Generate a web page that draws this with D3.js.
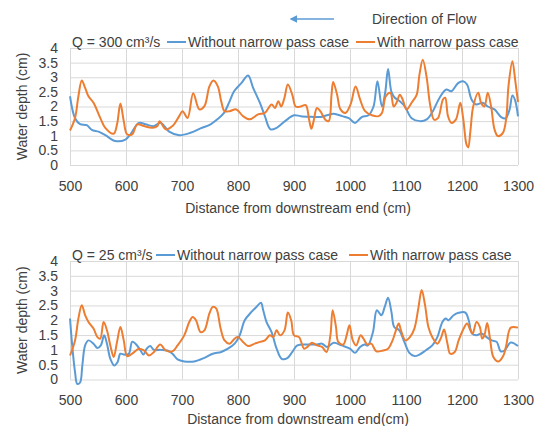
<!DOCTYPE html>
<html>
<head>
<meta charset="utf-8">
<script src="https://cdn.jsdelivr.net/npm/d3@7"></script>
<style>
  body { margin: 0; background: #fff; }
  svg text { font-family: "Liberation Sans", Arial, sans-serif; fill: #404040; }
</style>
</head>
<body>
<div id="chart"></div>
<script>
// x = distance from downstream end (cm), y = water depth (cm)
var yTicks = [0, 0.5, 1, 1.5, 2, 2.5, 3, 3.5, 4];
var xTicks = [500, 600, 700, 800, 900, 1000, 1100, 1200, 1300];
var seriesNames = ["Without narrow pass case", "With narrow pass case"];

// Q = 300 cm3/s
var topWithout = [
    [500, 2.35], [509, 1.6], [518, 1.4], [530, 1.36], [539, 1.2], [551, 1.14], [563, 1.02], [581, 0.82],
    [599, 0.87], [608, 1.05], [623, 1.44], [635, 1.39], [650, 1.33], [662, 1.44], [677, 1.14], [695, 1.02],
    [715, 1.1], [733, 1.25], [751, 1.39], [763, 1.56], [775, 1.78], [784, 2.13], [793, 2.52], [806, 2.8],
    [818, 3.06], [827, 2.64], [839, 2.13], [848, 1.67], [858, 1.22], [869, 1.27], [884, 1.5], [900, 1.7],
    [912, 1.67], [930, 1.65], [947, 1.64], [959, 1.7], [971, 1.75], [986, 1.67], [998, 1.6], [1009, 1.44],
    [1021, 1.64], [1033, 1.7], [1042, 2.0], [1049, 2.86], [1057, 2.0], [1063, 2.5], [1068, 3.28], [1074, 2.5],
    [1080, 2.3], [1089, 2.18], [1098, 2.0], [1110, 1.6], [1125, 1.5], [1137, 1.56], [1148, 1.84], [1160, 2.3],
    [1172, 2.58], [1181, 2.52], [1193, 2.8], [1202, 2.86], [1209, 2.75], [1217, 2.24], [1225, 2.07], [1237, 2.13],
    [1246, 2.0], [1258, 1.9], [1270, 1.64], [1278, 1.6], [1285, 1.9], [1290, 2.38], [1295, 2.2], [1300, 1.66]
];
var topWith = [
    [500, 1.18], [509, 1.61], [515, 2.35], [521, 2.89], [527, 2.64], [533, 2.35], [542, 2.13], [554, 1.61],
    [563, 1.27], [578, 1.07], [584, 1.39], [590, 2.1], [596, 1.5], [602, 1.05], [611, 1.05], [620, 1.39],
    [632, 1.33], [647, 1.27], [656, 1.33], [660, 1.5], [671, 1.22], [683, 1.33], [695, 1.67], [701, 1.84],
    [710, 1.61], [720, 2.45], [731, 1.9], [740, 2.01], [749, 2.69], [756, 2.89], [764, 2.69], [770, 2.18],
    [776, 1.84], [785, 1.84], [797, 1.9], [809, 1.67], [821, 1.56], [836, 1.73], [848, 1.78], [860, 2.07],
    [866, 1.95], [872, 2.18], [877, 2.0], [883, 2.3], [889, 2.75], [897, 2.4], [903, 2.0], [912, 2.0],
    [921, 2.05], [927, 1.55], [931, 1.24], [935, 1.5], [941, 1.95], [947, 1.84], [956, 1.55], [962, 1.5],
    [967, 2.4], [970, 2.84], [977, 2.4], [983, 1.9], [992, 1.78], [1001, 2.07], [1010, 2.68], [1018, 2.24],
    [1027, 1.84], [1039, 1.7], [1051, 1.67], [1057, 1.78], [1064, 2.35], [1072, 2.47], [1078, 2.0], [1083, 2.13],
    [1089, 2.4], [1094, 2.24], [1101, 1.9], [1110, 2.13], [1119, 2.4], [1124, 3.09], [1130, 3.6], [1137, 2.98],
    [1143, 2.07], [1150, 1.55], [1157, 1.6], [1166, 2.24], [1170, 2.3], [1175, 1.67], [1181, 1.44], [1189, 1.55],
    [1197, 2.13], [1202, 1.61], [1208, 0.7], [1211, 0.6], [1215, 1.16], [1220, 2.0], [1229, 2.47], [1234, 2.13],
    [1240, 2.0], [1246, 2.47], [1252, 2.0], [1258, 1.22], [1264, 0.99], [1273, 1.1], [1279, 1.6], [1283, 2.7],
    [1290, 3.55], [1295, 2.9], [1300, 2.15]
];

// Q = 25 cm3/s
var bottomWithout = [
    [500, 2.06], [505, 0.93], [509, 0.25], [513, -0.15], [518, -0.1], [522, 0.47], [527, 1.15], [533, 1.32],
    [542, 1.21], [549, 1.06], [555, 1.15], [561, 1.49], [566, 1.21], [572, 0.7], [579, 0.47], [585, 0.59],
    [590, 0.87], [597, 0.84], [605, 0.87], [611, 1.27], [617, 1.21], [626, 0.98], [631, 0.84], [637, 1.04],
    [643, 1.13], [650, 1.0], [662, 1.0], [674, 0.98], [683, 0.87], [692, 0.68], [704, 0.61], [722, 0.61],
    [740, 0.73], [755, 0.87], [770, 0.93], [782, 1.04], [794, 1.21], [803, 1.49], [812, 2.0], [824, 2.28],
    [833, 2.45], [841, 2.59], [845, 2.34], [851, 1.94], [860, 1.6], [869, 1.04], [878, 0.7], [888, 0.72],
    [897, 0.93], [906, 1.15], [924, 1.18], [941, 1.18], [950, 1.21], [959, 1.1], [971, 1.24], [985, 1.15],
    [1000, 1.04], [1009, 0.9], [1018, 1.1], [1026, 1.18], [1032, 1.15], [1041, 1.6], [1048, 2.34], [1056, 2.17],
    [1062, 2.45], [1068, 2.76], [1074, 2.28], [1079, 1.77], [1088, 1.66], [1097, 1.27], [1106, 0.9], [1115, 0.79],
    [1124, 0.84], [1135, 0.98], [1147, 1.15], [1156, 1.43], [1165, 1.94], [1171, 2.06], [1176, 2.0], [1185, 2.17],
    [1194, 2.25], [1206, 2.26], [1212, 2.0], [1218, 1.55], [1226, 1.49], [1235, 1.55], [1244, 1.43], [1253, 1.32],
    [1262, 1.27], [1269, 0.95], [1276, 0.98], [1287, 1.25], [1300, 1.13]
];
var bottomWith = [
    [500, 0.81], [509, 1.32], [515, 2.06], [521, 2.51], [527, 2.17], [533, 1.94], [542, 1.72], [549, 1.43],
    [554, 1.38], [560, 1.94], [566, 1.66], [572, 1.15], [578, 0.76], [584, 1.27], [590, 1.77], [596, 1.32],
    [602, 0.79], [611, 0.87], [623, 1.04], [632, 0.98], [641, 0.81], [650, 0.93], [661, 1.18], [671, 0.98],
    [683, 0.95], [692, 1.15], [704, 1.49], [713, 1.94], [719, 2.11], [725, 2.0], [733, 1.6], [740, 1.66],
    [749, 2.23], [755, 2.45], [761, 2.4], [769, 1.72], [776, 1.32], [785, 1.21], [794, 1.38], [800, 1.43],
    [809, 1.27], [818, 1.13], [830, 1.21], [839, 1.27], [848, 1.32], [857, 1.49], [863, 1.43], [869, 1.66],
    [875, 1.49], [883, 1.66], [889, 2.26], [895, 2.0], [900, 1.49], [909, 1.43], [918, 1.04], [924, 1.1],
    [932, 1.24], [941, 1.15], [950, 1.1], [958, 0.93], [965, 1.49], [969, 2.34], [975, 1.77], [979, 1.27],
    [988, 1.18], [994, 1.49], [999, 1.83], [1005, 1.32], [1011, 1.15], [1019, 1.49], [1024, 1.38], [1031, 1.18],
    [1038, 1.21], [1047, 0.95], [1059, 0.98], [1068, 1.04], [1076, 1.32], [1082, 1.66], [1087, 1.89], [1091, 1.66],
    [1099, 1.32], [1107, 1.43], [1115, 1.72], [1122, 2.4], [1128, 3.02], [1134, 2.51], [1140, 1.77], [1147, 1.43],
    [1156, 1.21], [1163, 1.43], [1168, 1.69], [1174, 1.21], [1179, 0.87], [1187, 0.93], [1194, 1.32], [1203, 1.72],
    [1209, 1.89], [1215, 1.66], [1219, 1.55], [1226, 1.94], [1232, 1.77], [1236, 1.38], [1240, 1.49], [1245, 1.91],
    [1250, 1.38], [1256, 0.76], [1265, 0.61], [1274, 0.81], [1279, 1.15], [1287, 1.75], [1300, 1.75]
];

var WIDTH = 537, HEIGHT = 426,
    BLUE = "#5B9BD5", ORANGE = "#ED7D31", GRID = "#D9D9D9";

var svg = d3.select("#chart").append("svg")
    .attr("width", WIDTH)
    .attr("height", HEIGHT);

svg.append("rect").attr("width", WIDTH).attr("height", HEIGHT).attr("fill", "#fff");

// flow direction arrow at the top
svg.append("defs").append("marker")
    .attr("id", "head")
    .attr("viewBox", "0 0 10 10")
    .attr("refX", 8).attr("refY", 5)
    .attr("markerWidth", 5).attr("markerHeight", 5)
    .attr("orient", "auto-start-reverse")
    .append("path").attr("d", "M0,0L10,5L0,10z").attr("fill", BLUE);

svg.append("line")
    .attr("x1", 334).attr("x2", 291).attr("y1", 19).attr("y2", 19)
    .attr("stroke", BLUE).attr("stroke-width", 1.5)
    .attr("marker-end", "url(#head)");

svg.append("text")
    .attr("x", 372).attr("y", 24)
    .style("font-size", "14px")
    .text("Direction of Flow");

function panel(opt) {
    var x = d3.scaleLinear().domain([500, 1300]).range([70, 518]);
    var y = d3.scaleLinear().domain([0, 4]).range([opt.bottom, opt.top]);
    var g = svg.append("g");

    // horizontal grid + y labels
    var yAxis = g.append("g")
        .attr("transform", "translate(70,0)")
        .call(d3.axisLeft(y).tickValues(yTicks).tickSize(-(518 - 70)).tickPadding(12)
            .tickFormat(function (d) { return d; }));
    // vertical grid + x labels
    var xAxis = g.append("g")
        .attr("transform", "translate(0," + opt.bottom + ")")
        .call(d3.axisBottom(x).tickValues(xTicks).tickSize(-(opt.bottom - opt.top)).tickPadding(opt.xPad)
            .tickFormat(d3.format("d")));

    [yAxis, xAxis].forEach(function (a) {
        a.select(".domain").remove();
        a.selectAll("line").attr("stroke", GRID).attr("stroke-width", 1);
        a.selectAll("text").style("font-size", "14px").attr("fill", "#404040");
    });

    var line = d3.line()
        .x(function (d) { return x(d[0]); })
        .y(function (d) { return y(d[1]); })
        .curve(d3.curveCatmullRom.alpha(0.5));

    g.append("path").datum(opt.without)
        .attr("fill", "none").attr("stroke", BLUE).attr("stroke-width", 2)
        .attr("d", line);
    g.append("path").datum(opt.withPass)
        .attr("fill", "none").attr("stroke", ORANGE).attr("stroke-width", 2)
        .attr("d", line);

    // y title
    g.append("text")
        .attr("transform", "translate(27," + ((opt.top + opt.bottom) / 2) + ") rotate(-90)")
        .attr("text-anchor", "middle")
        .style("font-size", "14px")
        .text("Water depth (cm)");

    // x title
    g.append("text")
        .attr("x", 298).attr("y", opt.xTitleY)
        .attr("text-anchor", "middle")
        .style("font-size", "14px")
        .text(opt.xTitle);

    // legend row
    var ly = opt.top - 1;
    g.append("text").attr("x", 72).attr("y", ly).style("font-size", "14px").text(opt.label);
    g.append("line").attr("x1", opt.leg[0]).attr("x2", opt.leg[0] + 19)
        .attr("y1", ly - 5).attr("y2", ly - 5).attr("stroke", BLUE).attr("stroke-width", 2);
    g.append("text").attr("x", opt.leg[0] + 21).attr("y", ly).style("font-size", "14px").text(seriesNames[0]);
    g.append("line").attr("x1", opt.leg[1]).attr("x2", opt.leg[1] + 19)
        .attr("y1", ly - 5).attr("y2", ly - 5).attr("stroke", ORANGE).attr("stroke-width", 2);
    g.append("text").attr("x", opt.leg[1] + 21).attr("y", ly).style("font-size", "14px").text(seriesNames[1]);
}

panel({
    top: 48, bottom: 165, xPad: 16, xTitleY: 213,
    label: "Q = 300 cm\u00B3/s", leg: [167, 356],
    xTitle: "Distance from downstream end (cm)",
    without: topWithout, withPass: topWith
});

panel({
    top: 261, bottom: 379.5, xPad: 16, xTitleY: 424,
    label: "Q = 25 cm\u00B3/s", leg: [156, 349],
    xTitle: "Distance from downstream end(cm)",
    without: bottomWithout, withPass: bottomWith
});
</script>
</body>
</html>
